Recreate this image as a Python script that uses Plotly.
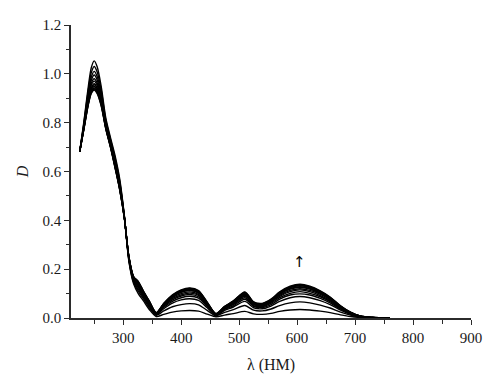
import plotly.graph_objects as go

# wavelengths (nm)
wavelength = [225, 232, 240, 245, 250, 255, 262, 270, 278, 286, 294, 302, 310, 318, 326, 335, 345,
              357, 370, 385, 400, 415, 430, 445, 460, 475, 490, 510, 525, 540, 555, 570, 588, 605,
              622, 640, 657, 675, 692, 710, 730, 760]

# optical density, one list per spectrum of the series
d0 = [0.68, 0.80, 0.95, 1.025, 1.053, 1.03, 0.95, 0.82, 0.74, 0.665, 0.57, 0.42, 0.23, 0.14, 0.10, 0.07, 0.035,
      0.006, 0.015, 0.024, 0.029, 0.031, 0.028, 0.016, 0.005, 0.012, 0.018, 0.027, 0.017, 0.015, 0.019, 0.027,
      0.033, 0.035, 0.033, 0.028, 0.022, 0.013, 0.006, 0.002, 0.001, 0.0]
d1 = [0.68, 0.794, 0.936, 1.005, 1.030, 1.009, 0.935, 0.811, 0.732, 0.656, 0.561, 0.418, 0.234, 0.146, 0.110, 0.078, 0.042,
      0.011, 0.029, 0.046, 0.055, 0.059, 0.054, 0.031, 0.009, 0.023, 0.034, 0.051, 0.032, 0.029, 0.037, 0.051,
      0.062, 0.066, 0.062, 0.053, 0.041, 0.024, 0.012, 0.003, 0.001, 0.0]
d2 = [0.68, 0.789, 0.923, 0.987, 1.010, 0.990, 0.921, 0.804, 0.726, 0.647, 0.554, 0.416, 0.237, 0.151, 0.118, 0.084, 0.048,
      0.014, 0.038, 0.061, 0.074, 0.079, 0.072, 0.042, 0.012, 0.031, 0.045, 0.068, 0.042, 0.038, 0.049, 0.068,
      0.083, 0.088, 0.083, 0.071, 0.055, 0.032, 0.015, 0.004, 0.001, 0.0]
d3 = [0.68, 0.785, 0.913, 0.974, 0.995, 0.976, 0.911, 0.798, 0.720, 0.640, 0.548, 0.415, 0.240, 0.155, 0.125, 0.090, 0.052,
      0.016, 0.043, 0.068, 0.083, 0.089, 0.081, 0.047, 0.013, 0.035, 0.050, 0.077, 0.048, 0.043, 0.055, 0.077,
      0.094, 0.099, 0.094, 0.080, 0.062, 0.036, 0.017, 0.005, 0.001, 0.0]
d4 = [0.68, 0.782, 0.904, 0.961, 0.980, 0.963, 0.901, 0.793, 0.716, 0.635, 0.543, 0.414, 0.242, 0.158, 0.131, 0.094, 0.056,
      0.017, 0.047, 0.074, 0.090, 0.096, 0.087, 0.051, 0.014, 0.037, 0.055, 0.083, 0.051, 0.047, 0.060, 0.083,
      0.101, 0.108, 0.101, 0.087, 0.067, 0.039, 0.019, 0.005, 0.002, 0.0]
d5 = [0.68, 0.779, 0.898, 0.953, 0.970, 0.954, 0.895, 0.789, 0.712, 0.631, 0.539, 0.413, 0.244, 0.161, 0.135, 0.098, 0.059,
      0.018, 0.050, 0.079, 0.095, 0.102, 0.093, 0.054, 0.015, 0.040, 0.058, 0.089, 0.055, 0.050, 0.064, 0.089,
      0.108, 0.115, 0.108, 0.092, 0.071, 0.042, 0.020, 0.006, 0.002, 0.0]
d6 = [0.68, 0.777, 0.892, 0.943, 0.960, 0.944, 0.888, 0.785, 0.709, 0.626, 0.535, 0.412, 0.246, 0.163, 0.139, 0.101, 0.062,
      0.019, 0.052, 0.083, 0.100, 0.107, 0.097, 0.057, 0.016, 0.042, 0.061, 0.093, 0.057, 0.052, 0.067, 0.093,
      0.113, 0.120, 0.113, 0.097, 0.075, 0.044, 0.021, 0.006, 0.002, 0.0]
d7 = [0.68, 0.775, 0.889, 0.939, 0.955, 0.940, 0.884, 0.783, 0.707, 0.624, 0.533, 0.412, 0.246, 0.165, 0.141, 0.103, 0.064,
      0.020, 0.055, 0.086, 0.105, 0.112, 0.102, 0.059, 0.016, 0.044, 0.064, 0.097, 0.060, 0.055, 0.070, 0.097,
      0.118, 0.126, 0.118, 0.101, 0.078, 0.046, 0.022, 0.006, 0.002, 0.0]
d8 = [0.68, 0.774, 0.884, 0.933, 0.948, 0.933, 0.880, 0.780, 0.705, 0.621, 0.530, 0.411, 0.248, 0.166, 0.144, 0.105, 0.066,
      0.020, 0.056, 0.088, 0.107, 0.114, 0.104, 0.060, 0.017, 0.045, 0.065, 0.100, 0.061, 0.056, 0.072, 0.100,
      0.121, 0.128, 0.121, 0.103, 0.080, 0.047, 0.022, 0.007, 0.002, 0.0]
d9 = [0.68, 0.772, 0.880, 0.927, 0.942, 0.928, 0.876, 0.778, 0.703, 0.619, 0.528, 0.411, 0.249, 0.168, 0.147, 0.107, 0.068,
      0.021, 0.058, 0.091, 0.110, 0.118, 0.108, 0.062, 0.017, 0.046, 0.067, 0.103, 0.063, 0.058, 0.074, 0.103,
      0.125, 0.132, 0.125, 0.107, 0.083, 0.048, 0.023, 0.007, 0.002, 0.0]
d10 = [0.68, 0.771, 0.877, 0.923, 0.938, 0.923, 0.872, 0.776, 0.701, 0.616, 0.526, 0.410, 0.249, 0.169, 0.149, 0.109, 0.069,
       0.022, 0.059, 0.093, 0.113, 0.121, 0.110, 0.064, 0.018, 0.047, 0.069, 0.105, 0.065, 0.059, 0.075, 0.105,
       0.127, 0.135, 0.127, 0.109, 0.084, 0.049, 0.024, 0.007, 0.002, 0.0]
d11 = [0.68, 0.77, 0.875, 0.92, 0.934, 0.92, 0.87, 0.775, 0.70, 0.615, 0.525, 0.41, 0.25, 0.17, 0.15, 0.11, 0.07,
       0.022, 0.060, 0.095, 0.115, 0.123, 0.112, 0.065, 0.018, 0.048, 0.070, 0.107, 0.066, 0.060, 0.077, 0.107,
       0.130, 0.138, 0.130, 0.111, 0.086, 0.050, 0.024, 0.007, 0.002, 0.0]

spectra = [d0, d1, d2, d3, d4, d5, d6, d7, d8, d9, d10, d11]

x_ticks = [300, 400, 500, 600, 700, 800, 900]
y_ticks = [0.0, 0.2, 0.4, 0.6, 0.8, 1.0, 1.2]

FONT = "Liberation Serif"
AXC = "#2b2b2b"

fig = go.Figure()
for d in spectra:
    fig.add_trace(go.Scatter(x=wavelength, y=d, mode="lines",
                             line=dict(color="black", width=1.4, shape="spline", smoothing=0.8),
                             showlegend=False, hoverinfo="skip"))

fig.add_annotation(x=605, y=0.228, text="↑", showarrow=False,
                   font=dict(family="DejaVu Sans", size=15, color="black"))

axis_common = dict(showgrid=False, zeroline=False, showline=True, linecolor=AXC, linewidth=1.6,
                   ticks="outside", ticklen=5, tickwidth=1.3, tickcolor=AXC,
                   tickfont=dict(family=FONT, size=15, color="#1a1a1a"), automargin=False)

fig.update_xaxes(range=[210, 900], tickvals=x_ticks, ticktext=[str(v) for v in x_ticks],
                 minor=dict(ticks="outside", ticklen=4, tickwidth=1.3, tickcolor=AXC, dtick=50, tick0=250),
                 title=dict(text="λ (HM)", font=dict(family=FONT, size=16, color="#1a1a1a"), standoff=14),
                 **axis_common)
fig.update_yaxes(range=[0, 1.2], tickvals=y_ticks, ticktext=[f"{v:.1f}" for v in y_ticks],
                 minor=dict(ticks="outside", ticklen=3, tickwidth=1.3, tickcolor=AXC, dtick=0.1, tick0=0),
                 title=dict(text="<i>D</i>", font=dict(family=FONT, size=16, color="#1a1a1a"), standoff=10),
                 **axis_common)

fig.update_layout(width=500, height=388, margin=dict(l=71, r=29, t=25, b=70),
                  paper_bgcolor="white", plot_bgcolor="white",
                  font=dict(family=FONT, color="#1a1a1a"))

fig.write_html("out.html", post_script="document.body.style.margin='0';",
               config={"displayModeBar": False})
